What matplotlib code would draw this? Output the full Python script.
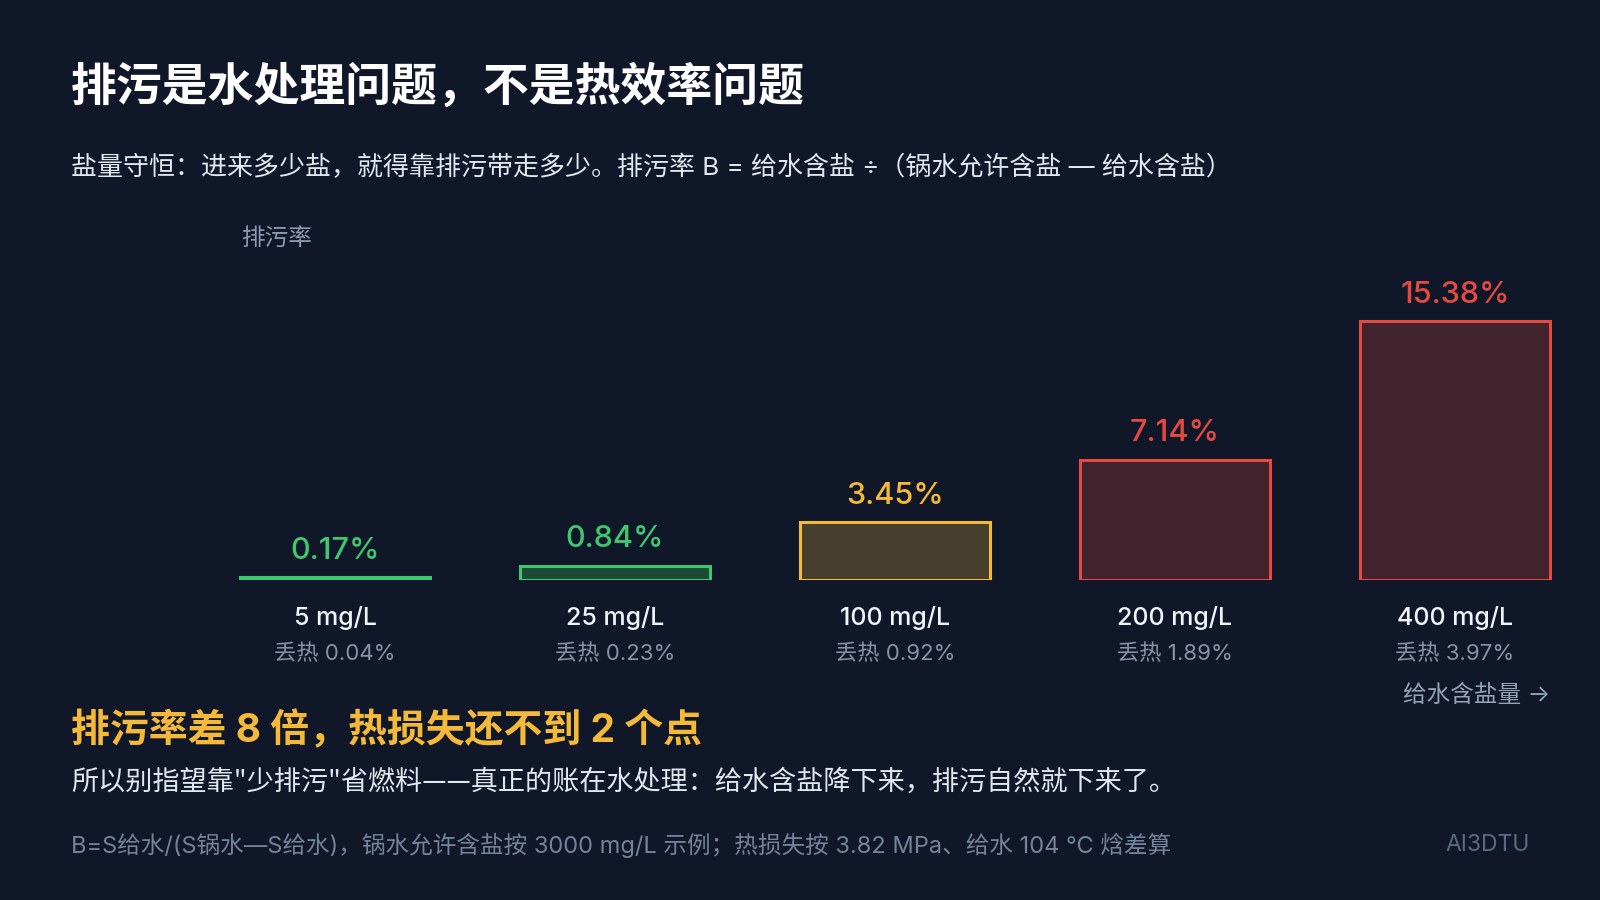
import matplotlib.pyplot as plt
import numpy as np

# latin glyphs from Inter, CJK glyphs fall through to Noto
plt.rcParams['font.family'] = ['Inter', 'Noto Sans CJK SC', 'DejaVu Sans']
cjk_first = ['Noto Sans CJK SC', 'DejaVu Sans']

# data
salt_labels = ["5 mg/L", "25 mg/L", "100 mg/L", "200 mg/L", "400 mg/L"]
blowdown_rate = [0.17, 0.84, 3.45, 7.14, 15.38]
heat_loss = [0.04, 0.23, 0.92, 1.89, 3.97]
bar_colors = ["#3ec76f", "#3ec76f", "#f5b93a", "#e5493f", "#e5493f"]
fill_colors = ["#1e4a3a", "#1b4a37", "#463f2e", "#42222c", "#42222c"]

bg = "#0f1729"

fig = plt.figure(figsize=(16, 9), dpi=100)
fig.patch.set_facecolor(bg)

# axes placed so baseline sits at y=580px from top
ax = fig.add_axes([195 / 1600, 320 / 900, 1400 / 1600, 330 / 900])
ax.set_facecolor(bg)
x = np.arange(len(salt_labels))
ymax = 15.38 * 330 / 259
ax.set_xlim(-0.5, len(salt_labels) - 0.5)
ax.set_ylim(0, ymax)

for i in x:
    ax.bar(i, blowdown_rate[i], width=0.68, color=fill_colors[i],
           edgecolor=bar_colors[i], linewidth=2.2, zorder=2)
    ax.annotate(f"{blowdown_rate[i]:.2f}%", xy=(i, blowdown_rate[i]),
                xytext=(0, 19), textcoords='offset points',
                ha='center', va='center', fontsize=22, fontweight='medium',
                color=bar_colors[i])
    ax.annotate(salt_labels[i], xy=(i, 0), xytext=(0, -27),
                textcoords='offset points', ha='center', va='center',
                fontsize=18, fontweight='medium', color='#f1f5f9',
                annotation_clip=False)
    ax.annotate(f"丢热 {heat_loss[i]:.2f}%", xy=(i, 0), xytext=(0, -53.5),
                textcoords='offset points', ha='center', va='center',
                fontsize=16, color='#8893a5', annotation_clip=False)

ax.axis('off')

# titles and notes
fig.text(71 / 1600, 1 - 87 / 900, "排污是水处理问题，不是热效率问题",
         fontsize=33, fontweight='bold', color='white', va='center')
fig.text(71 / 1600, 1 - 168 / 900,
         "盐量守恒：进来多少盐，就得靠排污带走多少。排污率 B = 给水含盐 ÷（锅水允许含盐 — 给水含盐）",
         fontsize=18.7, color='#e2e8f0', va='center')
fig.text(241 / 1600, 1 - 239 / 900, "排污率", fontsize=17,
         color='#8c9ab0', va='center')
fig.text(1550 / 1600, 1 - 696 / 900, "给水含盐量 →", fontsize=17,
         color='#94a3b8', va='center', ha='right')
fig.text(71 / 1600, 1 - 731 / 900, "排污率差 8 倍，热损失还不到 2 个点",
         fontsize=28, fontweight='bold', color='#f5b93a', va='center')
fig.text(71 / 1600, 1 - 782 / 900,
         "所以别指望靠\"少排污\"省燃料——真正的账在水处理：给水含盐降下来，排污自然就下来了。",
         fontsize=19.5, color='#e2e8f0', va='center', family=cjk_first)
fig.text(71 / 1600, 1 - 845 / 900,
         "B=S给水/(S锅水—S给水)，锅水允许含盐按 3000 mg/L 示例；热损失按 3.82 MPa、给水 104 ℃ 焓差算",
         fontsize=17, color='#74839a', va='center')
fig.text(1530 / 1600, 1 - 845 / 900, "AI3DTU", fontsize=16.5,
         color='#5b6a80', va='center', ha='right')

fig.savefig("out.png", dpi=100, facecolor=bg)
